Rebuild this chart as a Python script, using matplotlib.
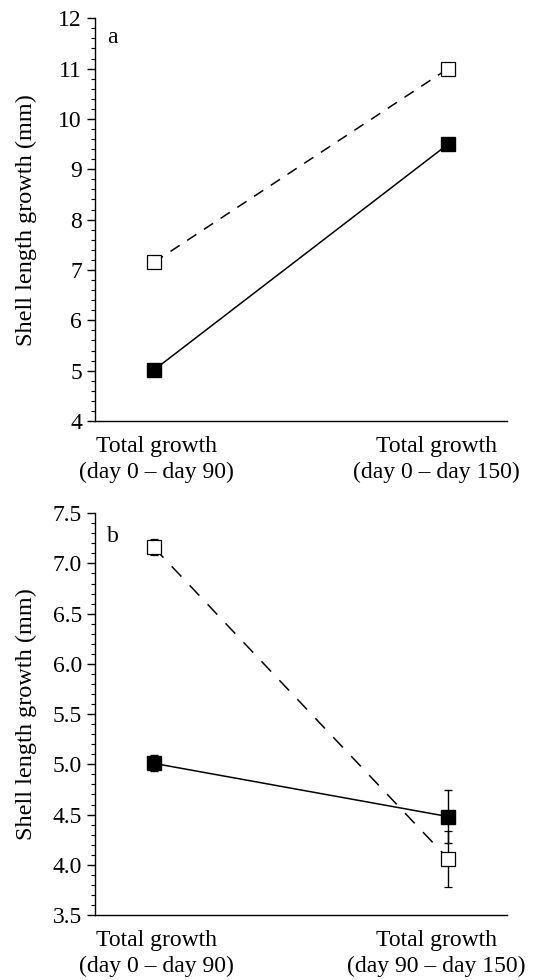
import numpy as np
import matplotlib
matplotlib.use("Agg")
import matplotlib.pyplot as plt
from matplotlib.ticker import MultipleLocator, AutoMinorLocator

plt.rcParams['font.family'] = ['Liberation Serif', 'DejaVu Serif']

# data
periods_a = ["Total growth\n(day 0 \u2013 day 90)", "Total growth\n(day 0 \u2013 day 150)"]
periods_b = ["Total growth\n(day 0 \u2013 day 90)", "Total growth\n(day 90 \u2013 day 150)"]

open_a = [7.15, 11.0]
filled_a = [5.01, 9.5]

open_b = [7.16, 4.06]
open_b_err = [0.08, 0.28]
filled_b = [5.01, 4.48]
filled_b_err = [0.08, 0.26]

x = np.arange(2)
tick_pos = [0.01, 0.96]

fig = plt.figure(figsize=(5.36, 9.8), dpi=100)
ax_a = fig.add_axes([0.177, 0.5704, 0.769, 0.411])
ax_b = fig.add_axes([0.177, 0.0663, 0.769, 0.410])


def style(ax, ylim, major, minor_n, labels, fmt):
    ax.set_xlim(-0.2, 1.2)
    ax.set_ylim(*ylim)
    ax.spines['top'].set_visible(False)
    ax.spines['right'].set_visible(False)
    ax.spines['left'].set_linewidth(1.0)
    ax.spines['bottom'].set_linewidth(1.0)
    ax.yaxis.set_major_locator(MultipleLocator(major))
    ax.yaxis.set_minor_locator(AutoMinorLocator(minor_n))
    ax.yaxis.set_major_formatter(fmt)
    ax.tick_params(axis='y', which='major', direction='out', length=5.8, width=1,
                   labelsize=17, pad=3.5)
    ax.tick_params(axis='y', which='minor', direction='out', length=3, width=0.8)
    ax.set_xticks(tick_pos)
    ax.set_xticklabels(labels, fontsize=17, linespacing=1.3)
    ax.tick_params(axis='x', length=0, pad=10.5)
    ax.set_ylabel("Shell length growth (mm)", fontsize=17.5)
    ax.yaxis.set_label_coords(-0.14, 0.5)


# panel a
ax_a.plot(x, open_a, color='black', lw=1.1, ls=(0, (7.2, 5.9)), marker='s', ms=10,
          mfc='white', mec='black', mew=0.9, zorder=3)
ax_a.plot(x, filled_a, color='black', lw=1.1, ls='-', marker='s', ms=10.5,
          mfc='black', mec='black', zorder=3)
style(ax_a, (4, 12), 1, 5, periods_a, '{x:.0f}')
ax_a.text(0.029, 0.938, "a", transform=ax_a.transAxes, fontsize=17, va='baseline')

# panel b
ax_b.errorbar(x, open_b, yerr=open_b_err, color='black', lw=1.1, ls=(0, (9.2, 7.9)),
              marker='s', ms=10, mfc='white', mec='black', mew=0.9,
              ecolor='black', elinewidth=1.0, capsize=3, capthick=1.0, zorder=3)
ax_b.errorbar(x, filled_b, yerr=filled_b_err, color='black', lw=1.1, ls='-',
              marker='s', ms=10.5, mfc='black', mec='black',
              ecolor='black', elinewidth=1.0, capsize=3, capthick=1.0, zorder=3)
style(ax_b, (3.5, 7.5), 0.5, 5, periods_b, '{x:.1f}')
ax_b.text(0.029, 0.928, "b", transform=ax_b.transAxes, fontsize=17, va='baseline')

fig.savefig("out.png", dpi=100)
